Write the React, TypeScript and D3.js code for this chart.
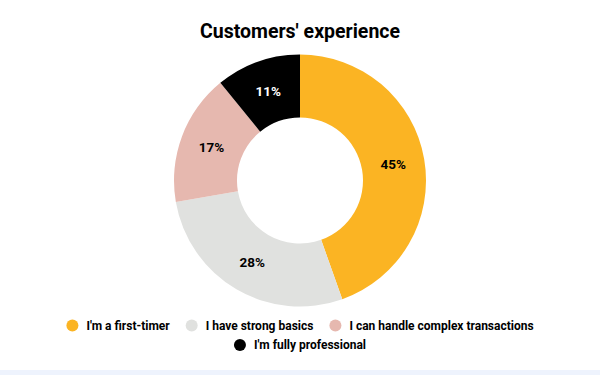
import { useEffect, useRef } from 'react';
import * as d3 from 'd3';

const categories = ["I'm a first-timer", 'I have strong basics', 'I can handle complex transactions', "I'm fully professional"];
const values = [45, 28, 17, 11];
const colors = ['#FBB423', '#E0E1DF', '#E6B8AF', '#000000'];
const labelColors = ['#000000', '#000000', '#000000', '#FFFFFF'];

const W = 600;
const H = 375;

function DonutChart() {
    const svgRef = useRef<SVGSVGElement>(null);

    useEffect(() => {
        if (!svgRef.current) return;
        const svg = d3.select(svgRef.current);
        svg.selectAll('*').remove();

        svg.append('rect').attr('width', W).attr('height', H).attr('fill', '#fff');
        svg.append('rect').attr('y', 370).attr('width', W).attr('height', 5).attr('fill', '#EEF3FD');

        svg.append('text')
            .attr('x', W / 2)
            .attr('y', 38)
            .attr('text-anchor', 'middle')
            .attr('font-size', '19.5px')
            .attr('font-weight', 'bold')
            .attr('fill', '#000')
            .text("Customers' experience");

        const cx = 300, cy = 180.5;
        const outer = 126, inner = 63;
        const pie = d3.pie<number>().sort(null).value(d => d);
        const arcs = pie(values);
        const arc = d3.arc<d3.PieArcDatum<number>>().innerRadius(inner).outerRadius(outer);

        const g = svg.append('g').attr('transform', `translate(${cx},${cy})`);
        g.selectAll('path')
            .data(arcs)
            .join('path')
            .attr('d', arc)
            .attr('fill', (_, i) => colors[i]);

        g.selectAll('text')
            .data(arcs)
            .join('text')
            .attr('transform', d => `translate(${arc.centroid(d)})`)
            .attr('text-anchor', 'middle')
            .attr('dy', '0.35em')
            .attr('font-size', '13.5px')
            .attr('font-weight', 'bold')
            .attr('fill', (_, i) => labelColors[i])
            .text(d => `${d.data}%`);

        // legend, wrapped and centred
        const legend = svg.append('g').attr('font-size', '12px').attr('font-weight', 'bold');
        const items = categories.map((c, i) => {
            const t = legend.append('text').attr('dy', '0.35em').attr('fill', '#000').text(c);
            const w = (t.node() as SVGTextElement).getComputedTextLength();
            return { t, w, i };
        });
        const circleR = 6, gapText = 14, gapItem = 22, maxW = 500;
        const rows: typeof items[] = [[]];
        let rowW = 0;
        items.forEach(it => {
            const iw = circleR + gapText + it.w;
            const add = rows[rows.length - 1].length ? gapItem + circleR + iw : iw + circleR;
            if (rowW + add > maxW && rows[rows.length - 1].length) {
                rows.push([]);
                rowW = 0;
            }
            rowW += rows[rows.length - 1].length ? gapItem + circleR + iw : iw + circleR;
            rows[rows.length - 1].push(it);
        });
        rows.forEach((row, r) => {
            const total = row.reduce((s, it, k) => s + 2 * circleR + gapText - circleR + it.w + (k ? gapItem - circleR : 0), 0);
            let x = W / 2 - total / 2;
            const y = 325.5 + r * 19.5;
            row.forEach((it, k) => {
                if (k) x += gapItem - circleR;
                legend.append('circle').attr('cx', x + circleR).attr('cy', y).attr('r', circleR).attr('fill', colors[it.i]);
                x += circleR + gapText;
                it.t.attr('x', x).attr('y', y);
                x += it.w;
            });
        });
    }, []);

    return (
        <svg ref={svgRef} width={W} height={H} style={{ display: 'block', fontFamily: 'Roboto, sans-serif' }}></svg>
    );
}

export default function App() {
    return (
        <div style={{ position: 'absolute', left: 0, top: 0 }}>
            <DonutChart />
        </div>
    );
}
